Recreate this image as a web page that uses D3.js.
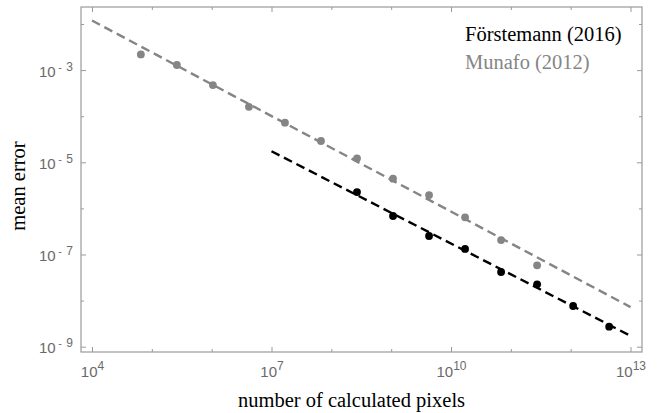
<!DOCTYPE html>
<html><head><meta charset="utf-8">
<script src="https://cdn.jsdelivr.net/npm/d3@7"></script>
<style>body{margin:0;background:#fff}svg{display:block}</style>
</head><body><svg id="c" width="658" height="413"></svg>
<script>
// ---- data ----
const munafoPixels = [65536, 262144, 1048576, 4194304, 16777216, 67108864, 268435456, 1073741824, 4294967296, 17179869184, 68719476736, 274877906944];
const munafoError = [2.19e-3, 1.29e-3, 4.73e-4, 1.60e-4, 7.24e-5, 2.90e-5, 1.22e-5, 4.42e-6, 1.95e-6, 6.41e-7, 2.06e-7, 5.82e-8];
const forstemannPixels = [268435456, 1073741824, 4294967296, 17179869184, 68719476736, 274877906944, 1099511627776, 4398046511104];
const forstemannError = [2.26e-6, 6.84e-7, 2.52e-7, 1.32e-7, 4.17e-8, 2.25e-8, 7.64e-9, 2.72e-9];
const munafoFitPixels = [1e4, 1e13];
const munafoFitError = [1.19e-2, 7.24e-9];
const forstemannFitPixels = [1e7, 1e13];
const forstemannFitError = [1.74e-5, 1.72e-9];
const seriesNames = ["Förstemann (2016)", "Munafo (2012)"];
const xMajorExp = [4, 7, 10, 13];
const xMinorExp = [5, 6, 8, 9, 11, 12];
const yMajorExp = [-3, -5, -7, -9];
const yMinorExp = [-2, -4, -6, -8];

// ---- layout ----
const W = 658, H = 413;
const m = {left: 81, top: 7, right: 16, bottom: 61};
const iw = W - m.left - m.right, ih = H - m.top - m.bottom;
const BLACK = "#000", GRAY = "#858585", FRAME = "#9a9a9a", LABEL = "#6a6a6a";
const SERIF = "'Liberation Serif', 'Times New Roman', serif";
const SANS = "'Liberation Sans', Arial, sans-serif";

const svg = d3.select("#c");
const g = svg.append("g").attr("transform", `translate(${m.left},${m.top})`);

const x = d3.scaleLog().domain([Math.pow(10, 3.816), Math.pow(10, 13.192)]).range([0, iw]);
const y = d3.scaleLog().domain([Math.pow(10, -9.115), Math.pow(10, -1.631)]).range([ih, 0]);

const p10 = e => Math.pow(10, e);

function styleAxis(sel) {
  sel.select(".domain").remove();
  sel.selectAll(".tick line").attr("stroke", FRAME).attr("stroke-width", 1);
}

// ticks (inward)
[[d3.axisBottom, [0, ih]], [d3.axisTop, [0, 0]]].forEach(([ax, t]) => {
  g.append("g").attr("transform", `translate(${t[0]},${t[1]})`)
    .call(ax(x).tickValues(xMinorExp.map(p10)).tickSize(-3).tickFormat(""))
    .call(styleAxis);
  g.append("g").attr("transform", `translate(${t[0]},${t[1]})`)
    .call(ax(x).tickValues(xMajorExp.map(p10)).tickSize(-5).tickFormat(""))
    .call(styleAxis);
});
[[d3.axisLeft, [0, 0]], [d3.axisRight, [iw, 0]]].forEach(([ax, t]) => {
  g.append("g").attr("transform", `translate(${t[0]},${t[1]})`)
    .call(ax(y).tickValues(yMinorExp.map(p10)).tickSize(-3).tickFormat(""))
    .call(styleAxis);
  g.append("g").attr("transform", `translate(${t[0]},${t[1]})`)
    .call(ax(y).tickValues(yMajorExp.map(p10)).tickSize(-5).tickFormat(""))
    .call(styleAxis);
});

// frame
g.append("rect").attr("x", 0).attr("y", 0).attr("width", iw).attr("height", ih)
  .attr("fill", "none").attr("stroke", FRAME).attr("stroke-width", 1.2);

// x labels
const xl = g.append("g").attr("transform", `translate(0,${ih})`)
  .call(d3.axisBottom(x).tickValues(xMajorExp.map(p10)).tickSize(0).tickFormat(""));
xl.select(".domain").remove();
xl.selectAll(".tick").each(function(d) {
  const e = Math.round(Math.log10(d));
  const t = d3.select(this).select("text")
    .attr("y", 25).attr("dy", null)
    .attr("fill", LABEL).attr("font-family", SANS)
    .attr("font-size", 15).attr("text-anchor", "middle");
  t.text(null);
  t.append("tspan").text("10");
  t.append("tspan").attr("dy", -7).attr("font-size", 12).text(e);
});

// y labels
const yl = g.append("g")
  .call(d3.axisLeft(y).tickValues(yMajorExp.map(p10)).tickSize(0).tickFormat(""));
yl.select(".domain").remove();
yl.selectAll(".tick").each(function(d) {
  const e = Math.round(Math.log10(d));
  const t = d3.select(this).select("text")
    .attr("x", -8).attr("y", 6).attr("dy", null)
    .attr("fill", LABEL).attr("font-family", SANS)
    .attr("font-size", 15).attr("text-anchor", "end");
  t.text(null);
  t.append("tspan").text("10");
  t.append("tspan").attr("dy", -6).attr("dx", 2.5).attr("font-size", 11).text("-");
  t.append("tspan").attr("dx", 4.5).attr("font-size", 12).text(Math.abs(e));
});

// fit lines
const line = d3.line().x(d => x(d[0])).y(d => y(d[1]));
const fits = [
  {px: munafoFitPixels, err: munafoFitError, color: GRAY},
  {px: forstemannFitPixels, err: forstemannFitError, color: BLACK}
];
fits.forEach(f => {
  g.append("path").datum(f.px.map((p, i) => [p, f.err[i]]))
    .attr("d", line).attr("fill", "none").attr("stroke", f.color)
    .attr("stroke-width", 2.4).attr("stroke-dasharray", "9,5");
});

// points
const pts = [
  {px: munafoPixels, err: munafoError, color: GRAY},
  {px: forstemannPixels, err: forstemannError, color: BLACK}
];
pts.forEach(s => {
  g.append("g").selectAll("circle").data(s.px.map((p, i) => [p, s.err[i]]))
    .join("circle").attr("cx", d => x(d[0])).attr("cy", d => y(d[1]))
    .attr("r", 3.9).attr("fill", s.color);
});

// legend
const leg = g.append("g").attr("font-family", SERIF).attr("font-size", 20.5);
leg.selectAll("text").data(seriesNames).join("text")
  .attr("x", 384).attr("y", (d, i) => 34 + i * 27.5)
  .attr("fill", (d, i) => i === 0 ? BLACK : GRAY).text(d => d);

// axis titles
svg.append("text").attr("x", 351.5).attr("y", 407)
  .attr("text-anchor", "middle").attr("font-family", SERIF)
  .attr("font-size", 20.5).text("number of calculated pixels");
svg.append("text").attr("transform", "translate(25,186) rotate(-90)")
  .attr("text-anchor", "middle").attr("font-family", SERIF)
  .attr("font-size", 20.5).text("mean error");
</script></body></html>
